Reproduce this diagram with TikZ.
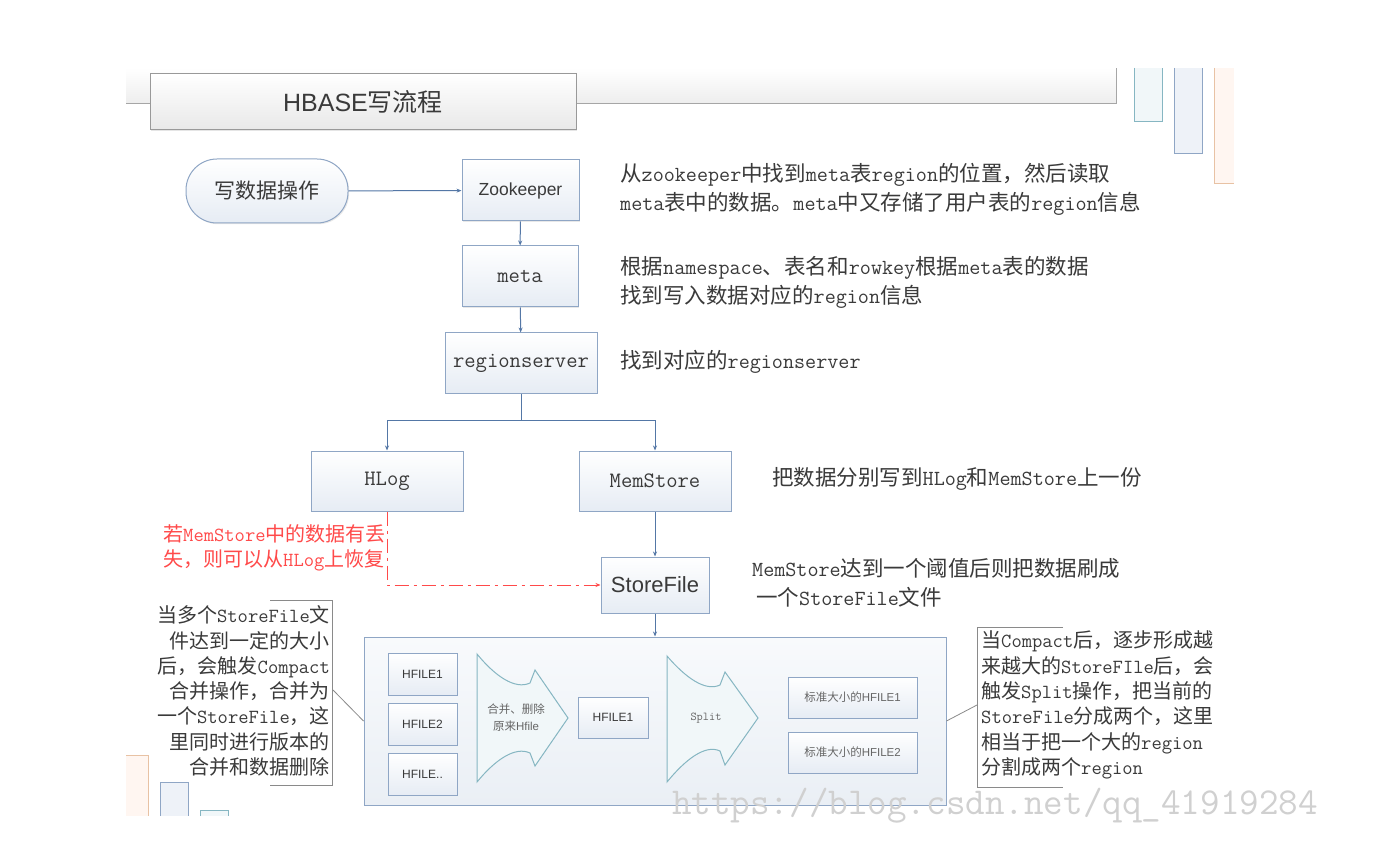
\documentclass[tikz,border=0pt]{standalone}
\usepackage{fontspec}
\setmainfont{Noto Sans CJK SC}
\newfontfamily\arial{Liberation Sans}
\usetikzlibrary{arrows.meta,shadows}
\definecolor{bline}{HTML}{8FA6C5}
\definecolor{boxbot}{HTML}{E6ECF4}
\definecolor{bigtop}{HTML}{F8FAFC}
\definecolor{bigbot}{HTML}{EAEFF5}
\definecolor{bluef}{HTML}{EEF2F8}
\definecolor{cline}{HTML}{5477A6}
\definecolor{tgray}{HTML}{3A3A3A}
\definecolor{gline}{HTML}{8A8A8A}
\definecolor{tealb}{HTML}{86B6C2}
\definecolor{tealf}{HTML}{F1F7F9}
\definecolor{orab}{HTML}{E8C2A4}
\definecolor{oraf}{HTML}{FFF6F1}
\definecolor{redc}{HTML}{FF4A4A}
\definecolor{wmc}{HTML}{D0D0D0}
\newcommand\lat[1]{{\ttfamily #1}}
\begin{document}
\begin{tikzpicture}[x=1pt,y=-1pt,
  box/.style={draw=bline, line width=1pt, top color=white, bottom color=boxbot, inner sep=0pt,
    drop shadow={shadow xshift=1.2pt,shadow yshift=-1.2pt,opacity=0.18}},
  conn/.style={draw=cline, line width=1pt},
  arr/.style={conn, -{Stealth[length=5pt,width=4pt]}},
  lbl/.style={text=tgray, font=\fontsize{22}{26}\selectfont\ttfamily},
  info/.style={text=tgray, font=\fontsize{21.5}{29}\selectfont, align=left, inner sep=0pt, anchor=west},
  note/.style={text=tgray, font=\fontsize{20}{25.3}\selectfont, inner sep=0pt},
  small/.style={text=black!60, font=\fontsize{11.5}{17}\selectfont, inner sep=0pt},
  hbox/.style={box, minimum width=69pt, minimum height=42pt, font=\fontsize{12}{14}\selectfont\arial, text=tgray},
  bracket/.style={draw=gline, line width=0.8pt},
  bigarrow/.style={draw=tealb, line width=1pt, fill=tealf},
  redline/.style={draw=redc, line width=1pt, dash pattern=on 14pt off 5pt on 3pt off 5pt}
]
\useasboundingbox (0,0) rectangle (1374,850);
\fill[white] (0,0) rectangle (1374,850);

% top band
\shade[top color=white, bottom color=black!7] (126,68) rectangle (1116,104);
\draw[draw=black!35, line width=1pt] (126,104) -- (1116,104) -- (1116,68);
\node[draw=black!40, line width=1pt, top color=white, bottom color=black!9,
  minimum width=426pt, minimum height=56pt, inner sep=0pt,
  drop shadow={shadow xshift=1.2pt,shadow yshift=-1.2pt,opacity=0.2},
  font=\fontsize{25}{30}\selectfont, text=tgray] (title) at (363,102) {{\arial HBASE}写流程};

% decorations
\filldraw[draw=tealb, fill=tealf, line width=1pt] (1134,68) -- (1134,122) -- (1162,122) -- (1162,68);
\filldraw[draw=bline, fill=bluef, line width=1pt] (1174,68) -- (1174,154) -- (1202,154) -- (1202,68);
\fill[oraf] (1214,68) rectangle (1234,184);
\draw[draw=orab, line width=1pt] (1214,68) -- (1214,184) -- (1234,184);
\fill[oraf] (126,755) rectangle (148,816);
\draw[draw=orab, line width=1pt] (126,755) -- (148,755) -- (148,816);
\filldraw[draw=bline, fill=bluef, line width=1pt] (160,816) -- (160,782) -- (188,782) -- (188,816);
\filldraw[draw=tealb, fill=tealf, line width=1pt] (200,816) -- (200,810) -- (228,810) -- (228,816);

% main flow
\node[box, rounded corners=31pt, minimum width=162pt, minimum height=64pt,
  font=\fontsize{21}{24}\selectfont, text=tgray] (start) at (267,191) {写数据操作};
\node[box, minimum width=117pt, minimum height=61pt, font=\fontsize{17.5}{20}\selectfont\arial, text=tgray] (zk) at (520.5,190.5) {Zookeeper};
\node[box, lbl, minimum width=116pt, minimum height=61pt] (meta) at (520,276.5) {meta};
\node[box, lbl, minimum width=152pt, minimum height=60pt] (rs) at (521,363) {regionserver};
\node[box, lbl, minimum width=152pt, minimum height=60pt] (hlog) at (387,481) {HLog};
\node[box, lbl, minimum width=152pt, minimum height=60pt] (mem) at (655,481) {MemStore};
\node[box, minimum width=108pt, minimum height=56pt, font=\fontsize{22}{24}\selectfont\arial, text=tgray] (sf) at (655,585) {StoreFile};
\node[box, minimum width=582pt, minimum height=168pt, top color=bigtop, bottom color=bigbot] (big) at (655,721) {};

% inner content
\node[hbox] (h1) at (422.5,674) {HFILE1};
\node[hbox] (h2) at (422.5,724) {HFILE2};
\node[hbox] (h3) at (422.5,774) {HFILE..};
\filldraw[bigarrow] (477,654) .. controls (495,676) and (515,690) .. (530,683) -- (535,670) -- (568,718)
  -- (535,766) -- (530,753) .. controls (515,746) and (495,760) .. (477,782) -- cycle;
\node[small, align=center] (merge) at (516,718) {合并、删除\\原来{\arial Hfile}};
\node[hbox, minimum width=70pt, minimum height=41pt] (hm) at (613,717.5) {HFILE1};
\filldraw[bigarrow] (667,656) .. controls (685,677) and (705,692) .. (720,685) -- (725,672) -- (758,718)
  -- (725,765) -- (720,751) .. controls (705,744) and (685,760) .. (667,782) -- cycle;
\node[small, font=\fontsize{12}{14}\selectfont\ttfamily] (split) at (706,718) {Split};
\node[hbox, minimum width=129pt, minimum height=41pt, small] (s1) at (852.5,697.5) {标准大小的{\arial HFILE1}};
\node[hbox, minimum width=129pt, minimum height=41pt, small] (s2) at (852.5,752.5) {标准大小的{\arial HFILE2}};

% connectors
\draw[arr] (start) -- (zk);
\draw[arr] (zk) -- (meta);
\draw[arr] (meta) -- (rs);
\coordinate (fork) at (521,420);
\draw[conn] (rs.south) -- (fork);
\draw[arr] (fork) -| (hlog.north);
\draw[arr] (fork) -| (mem.north);
\draw[arr] (mem) -- (sf);
\draw[arr] (sf) -- (big);
\draw[redline, -{Stealth[length=5pt,width=4pt]}] (hlog.south) |- (sf.west);

% info texts
\node[info] (t1) at (620,189) {从\lat{zookeeper}中找到\lat{meta}表\lat{region}的位置，然后读取\\\lat{meta}表中的数据。\lat{meta}中又存储了用户表的\lat{region}信息};
\node[info] (t2) at (620,282) {根据\lat{namespace}、表名和\lat{rowkey}根据\lat{meta}表的数据\\找到写入数据对应的\lat{region}信息};
\node[info] (t3) at (620,362) {找到对应的\lat{regionserver}};
\node[info] (t4) at (772,479) {把数据分别写到\lat{HLog}和\lat{MemStore}上一份};
\node[info] (t5) at (752,583) {\lat{MemStore}达到一个阈值后则把数据刷成\\\hspace{4pt}一个\lat{StoreFile}文件};
\node[note, text=redc, align=left, anchor=west] (red) at (163,548) {若\lat{MemStore}中的数据有丢\\失，则可以从\lat{HLog}上恢复};

% callouts
\draw[bracket] (270,600) -- (332,600) -- (332,785) -- (270,785);
\coordinate (lcb) at (333,690);
\draw[bracket] (lcb) -- (big.west);
\node[note, align=right, anchor=east] (lnote) at (330,691) {当多个\lat{StoreFile}文\\件达到一定的大小\\后，会触发\lat{Compact}\\合并操作，合并为\\一个\lat{StoreFile}，这\\里同时进行版本的\\合并和数据删除};
\draw[bracket] (1063,627) -- (977,627) -- (977,787) -- (1063,787);
\coordinate (rcb) at (977,705);
\draw[bracket] (big.east) -- (rcb);
\node[note, align=left, anchor=west] (rnote) at (981,705) {当\lat{Compact}后，逐步形成越\\来越大的\lat{StoreFIle}后，会\\触发\lat{Split}操作，把当前的\\\lat{StoreFile}分成两个，这里\\相当于把一个大的\lat{region}\\分割成两个\lat{region}};

% watermark
\node[text=wmc, font=\fontsize{38}{40}\selectfont\ttfamily, inner sep=0pt] (wm) at (995,806) {https://blog.csdn.net/qq\_41919284};
\end{tikzpicture}
\end{document}
